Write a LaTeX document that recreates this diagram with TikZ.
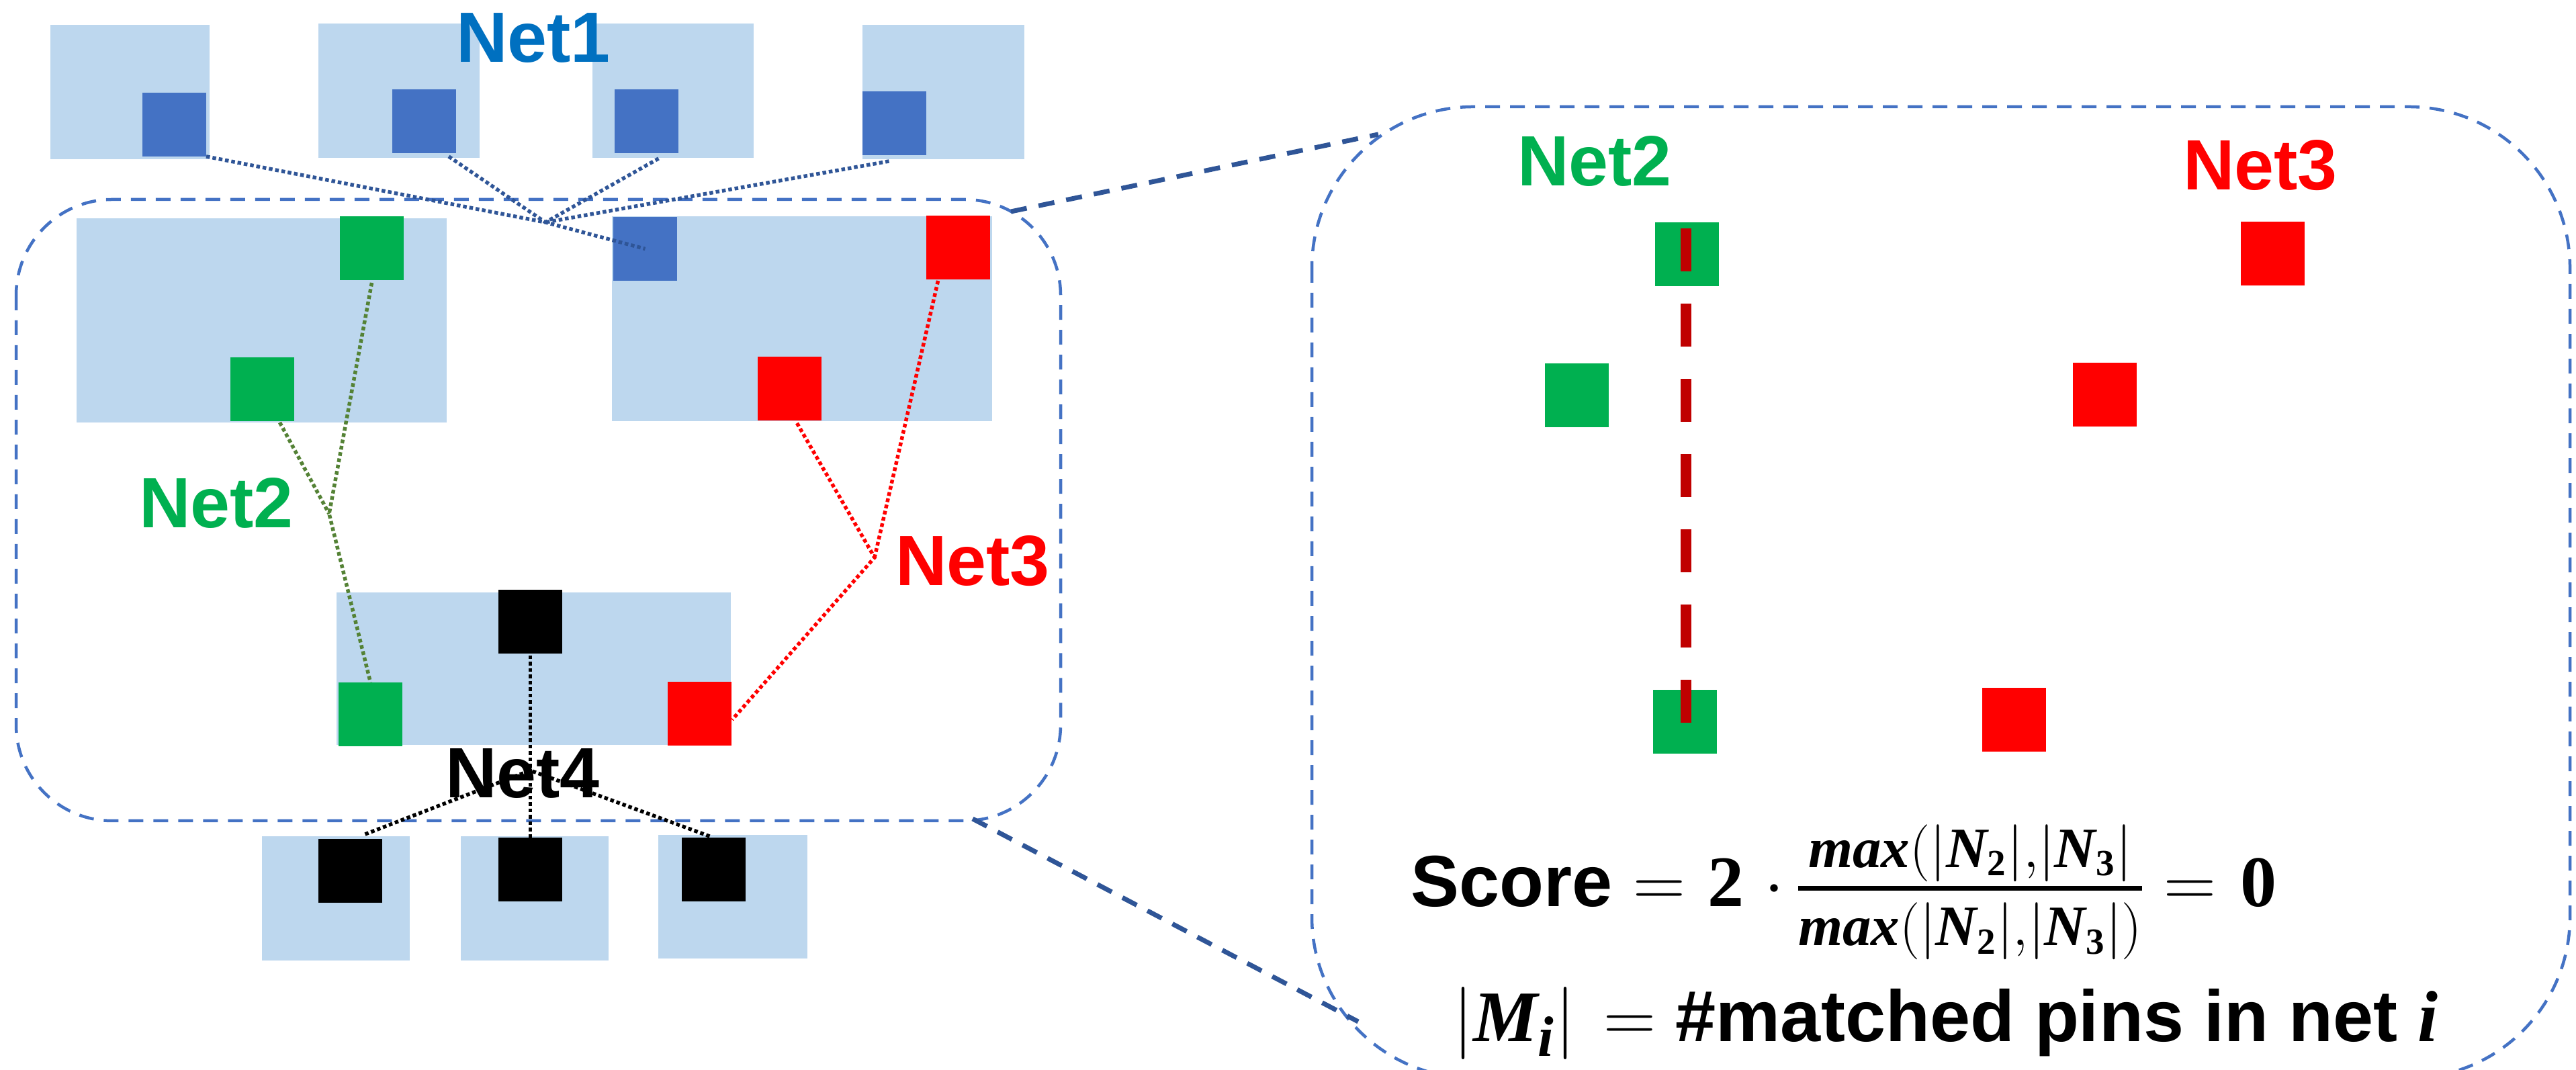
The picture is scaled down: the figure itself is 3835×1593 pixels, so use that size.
\RequirePackage{fix-cm}
\documentclass[tikz,border=0pt]{standalone}
\usepackage{amsmath}
\usepackage[no-math]{fontspec}
\setmainfont{Liberation Sans}
\newfontfamily\eqserif{Liberation Serif}
\usetikzlibrary{calc}
\DeclareMathSizes{21.6}{21.6}{17}{11}
\definecolor{cellfill}{HTML}{BDD7EE}
\definecolor{pinblue}{HTML}{4472C4}
\definecolor{pingreen}{HTML}{00B050}
\definecolor{pinred}{HTML}{FF0000}
\definecolor{netone}{HTML}{0070C0}
\definecolor{wireone}{HTML}{2F5597}
\definecolor{wiretwo}{HTML}{548235}
\definecolor{regionblue}{HTML}{4472C4}
\definecolor{zoomblue}{HTML}{2F5597}
\definecolor{markred}{HTML}{C00000}
% bold italic variables and bold digits for the score formula
\newcommand\vb[1]{\text{\eqserif\bfseries\itshape #1}}
\newcommand\nb[1]{\text{\eqserif\bfseries #1}}
\newcommand\tightmath{\thickmuskip=0mu\medmuskip=0mu\thinmuskip=0mu}
\begin{document}
\begin{tikzpicture}[x=0.2pt,y=-0.2pt,
  cell/.style 2 args={fill=cellfill,inner sep=0pt,outer sep=0pt,anchor=north west,
    minimum width=#1*0.2pt,minimum height=#2*0.2pt},
  pinbox/.style={fill=#1,inner sep=0pt,outer sep=0pt,anchor=north west,minimum size=19pt},
  netwire/.style={draw=#1,line width=1.1pt,dash pattern=on 1.1pt off 0.8pt},
  region/.style={draw=regionblue,line width=0.9pt,dash pattern=on 4.4pt off 3pt},
  zoomline/.style={draw=zoomblue,line width=1.4pt,dash pattern=on 4.8pt off 3.6pt},
  netlabel/.style={font=\fontsize{21.2}{25}\selectfont\bfseries,text=#1,inner sep=0pt,anchor=base west},
  formula/.style={font=\fontsize{21.6}{26}\selectfont\bfseries,inner sep=0pt,anchor=base west}]
\useasboundingbox (0,0) rectangle (3835,1593);
\fill[white] (0,0) rectangle (3835,1593);
\clip (0,0) rectangle (3835,1593);

% ---------- cells of the placement ----------
\node[cell={237}{200}] (c1) at (75,37) {};
\node[cell={240}{200}] (c2) at (474,35) {};
\node[cell={240}{200}] (c3) at (882,35) {};
\node[cell={241}{200}] (c4) at (1284,37) {};
\node[cell={551}{304}] (ca) at (114,325) {};
\node[cell={566}{305}] (cb) at (911,322) {};
\node[cell={587}{227}] (cc) at (501,882) {};
\node[cell={220}{185}] (cd1) at (390,1245) {};
\node[cell={220}{185}] (cd2) at (686,1245) {};
\node[cell={222}{184}] (cd3) at (980,1243) {};

% ---------- pins ----------
\node[pinbox=pinblue] (p1) at (212,138) {};
\node[pinbox=pinblue] (p2) at (584,133) {};
\node[pinbox=pinblue] (p3) at (915,133) {};
\node[pinbox=pinblue] (p4) at (1284,136) {};
\node[pinbox=pingreen] (a1) at (506,322) {};
\node[pinbox=pingreen] (a2) at (343,532) {};
\node[pinbox=pinblue] (b1) at (913,323) {};
\node[pinbox=pinred] (b2) at (1379,321) {};
\node[pinbox=pinred] (b3) at (1128,531) {};
\node[pinbox=black] (kb) at (742,878) {};
\node[pinbox=pingreen] (kg) at (504,1016) {};
\node[pinbox=pinred] (kr) at (994,1015) {};
\node[pinbox=black] (d1p) at (474,1249) {};
\node[pinbox=black] (d2p) at (742,1247) {};
\node[pinbox=black] (d3p) at (1015,1247) {};

% ---------- highlighted regions and zoom lines ----------
\draw[region,rounded corners=28.6pt] (24,297) rectangle (1579,1222);
\draw[region,rounded corners=48pt] (1953,159) rectangle (3826,1605);
\coordinate (zA) at (1505,315);
\coordinate (zB) at (2052,200);
\coordinate (zC) at (1448,1219);
\coordinate (zD) at (2022,1521);
\draw[zoomline] (zA) -- (zB);
\draw[zoomline] (zC) -- (zD);

% ---------- Net1 ----------
\coordinate (j1) at (812,331);
\draw[netwire=wireone] (p1.south east) -- (j1) -- (b1.center);
\draw[netwire=wireone] ($(p2.south east)+(-11,5)$) -- (j1);
\draw[netwire=wireone] ($(p3.south)+(18,8)$) -- (j1);
\draw[netwire=wireone] ($(p4.south)+(-8,9)$) -- (j1);

% ---------- Net2 ----------
\coordinate (j2) at (490,765);
\draw[netwire=wiretwo] ($(a1.south)+(0,4)$) -- (j2) -- (kg.north);
\draw[netwire=wiretwo] ($(a2.south)+(26,2)$) -- (j2);

% ---------- Net3 ----------
\coordinate (j3) at (1302,830);
\draw[netwire=pinred] ($(b3.south)+(11,4)$) -- (j3) -- ($(kr.east)+(1,9)$);
\draw[netwire=pinred] ($(b2.south)+(-30,2)$) -- (j3);

% ---------- Net4 ----------
\coordinate (j4) at (789.5,1147);
\draw[netwire=black] ($(kb.south)+(0,3)$) -- (d2p.north);
\draw[netwire=black] ($(d1p.north)+(22,-7)$) -- (j4);
\draw[netwire=black] ($(d3p.north)+(-6,-2)$) -- (j4);

% ---------- net names ----------
\node[netlabel=netone] (n1) at (678,93) {Net1};
\node[netlabel=pingreen] (n2) at (206,786) {Net2};
\node[netlabel=pinred] (n3) at (1332,872) {Net3};
\node[netlabel=black] (n4) at (662,1188) {Net4};

% ---------- magnified view ----------
\node[pinbox=pingreen] (rg1) at (2464,331) {};
\node[pinbox=pinred] (rr1) at (3336,330) {};
\node[pinbox=pingreen] (rg2) at (2300,541) {};
\node[pinbox=pinred] (rr2) at (3086,540) {};
\node[pinbox=pingreen] (rg3) at (2461,1027) {};
\node[pinbox=pinred] (rr3) at (2951,1024) {};
\draw[markred,line width=3.2pt,dash pattern=on 12.8pt off 9.6pt]
  ($(rg1.north)+(-1.5,9)$) -- ($(rg1.north)+(-1.5,745)$);
\node[netlabel=pingreen] (m2) at (2258,277) {Net2};
\node[netlabel=pinred] (m3) at (3249,283) {Net3};

% ---------- score ----------
\node[formula] (score) at (2099,1350) {Score{\tightmath$\mkern5.2mu=\mkern5.5mu\nb{2}\mkern5mu\cdot\mkern2.5mu
  \genfrac{}{}{1.4pt}{1}{\vb{max}(|\vb{N}_{\nb{2}}|,|\vb{N}_{\nb{3}}|}
  {\rule{0pt}{14.8pt}\vb{max}(|\vb{N}_{\nb{2}}|,|\vb{N}_{\nb{3}}|)}\mkern4.5mu=\mkern6mu\nb{0}$}};
\node[formula] (mdef) at (2162,1551) {{\tightmath$|\vb{M}_{\vb{i}}|\mkern7mu=\mkern5mu$}\#matched pins in net {\eqserif\bfseries\itshape i}};
\end{tikzpicture}
\end{document}
